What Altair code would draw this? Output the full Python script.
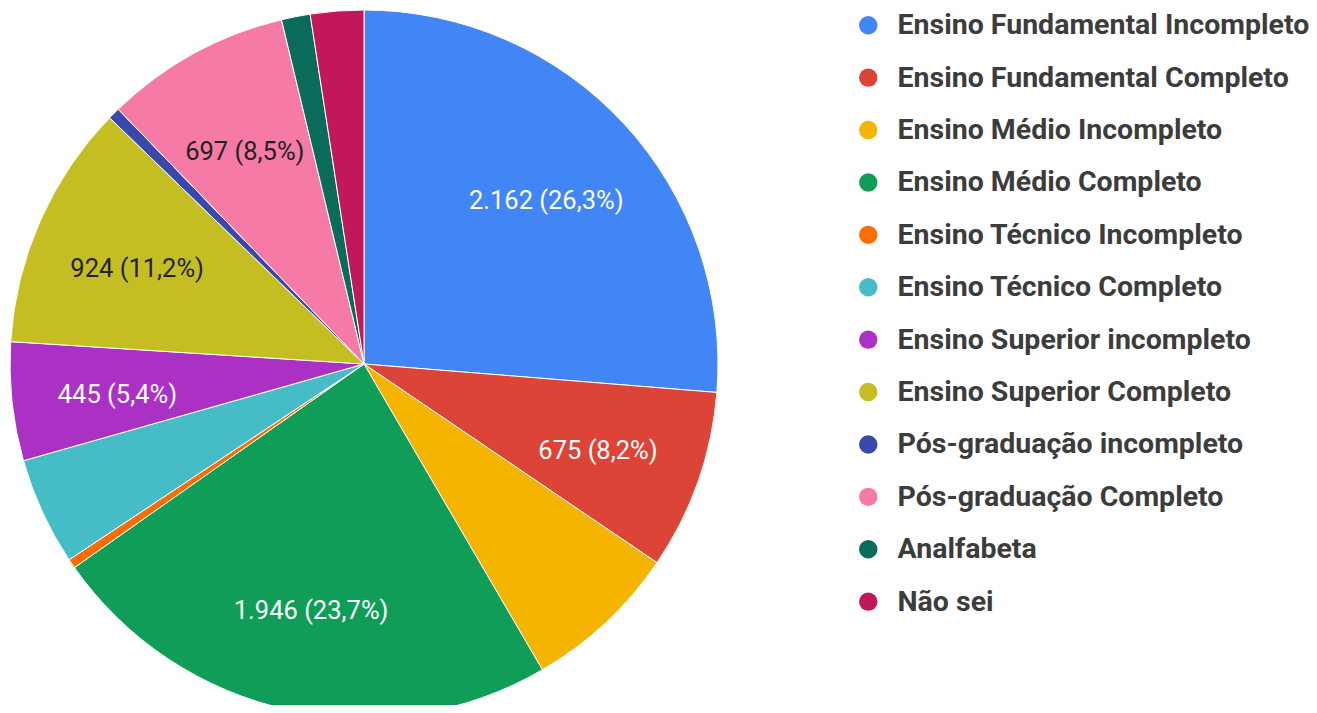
import altair as alt
import pandas as pd

categories = [
    "Ensino Fundamental Incompleto",
    "Ensino Fundamental Completo",
    "Ensino Médio Incompleto",
    "Ensino Médio Completo",
    "Ensino Técnico Incompleto",
    "Ensino Técnico Completo",
    "Ensino Superior incompleto",
    "Ensino Superior Completo",
    "Pós-graduação incompleto",
    "Pós-graduação Completo",
    "Analfabeta",
    "Não sei",
]
values = [2162, 675, 585, 1946, 35, 405, 445, 924, 45, 697, 108, 200]
colors = [
    "#4285F4", "#DB4437", "#F4B400", "#0F9D58", "#FF6D00", "#46BDC6",
    "#AB30C4", "#C5BE22", "#3949AB", "#F67AA6", "#0B6B5A", "#C2185B",
]
show_label = [True, True, False, True, False, False, True, True, False, True, False, False]
dark_label = [False, False, False, False, False, False, False, True, False, True, False, False]

total = sum(values)


def fmt(v):
    s = f"{v:,}".replace(",", ".")
    p = f"{v / total * 100:.1f}".replace(".", ",")
    return f"{s} ({p}%)"


df = pd.DataFrame({
    "idx": list(range(len(categories))),
    "cat": categories,
    "value": values,
    "label": [fmt(v) if s else "" for v, s in zip(values, show_label)],
    "dark": dark_label,
})

base = alt.Chart(df).encode(
    theta=alt.Theta("value:Q", stack=True),
    order=alt.Order("idx:Q"),
)

pie = base.mark_arc(radius=354, stroke="white", strokeWidth=1).encode(
    color=alt.Color(
        "cat:N",
        scale=alt.Scale(domain=categories, range=colors),
        sort=categories,
        legend=alt.Legend(
            title=None,
            orient="none",
            legendX=846,
            legendY=3,
            symbolType="circle",
            symbolSize=340,
            symbolStrokeWidth=0,
            labelFont="Roboto",
            labelFontSize=28.5,
            labelFontWeight="bold",
            labelColor="#3c3c3c",
            labelOffset=15,
            rowPadding=23.4,
            padding=0,
            labelLimit=600,
        ),
    ),
    x=alt.value(356),
    y=alt.value(356),
)

text = base.mark_text(radius=248, dy=5, font="Roboto", fontSize=25.5).encode(
    text="label:N",
    color=alt.condition("datum.dark", alt.value("#222222"), alt.value("#ffffff")),
    x=alt.value(356),
    y=alt.value(356),
)

chart = (
    alt.layer(pie, text)
    .properties(width=1301, height=697, padding=0, autosize=alt.AutoSizeParams(type="none"))
    .configure_view(stroke=None)
)

chart.save("out.html", embed_options={"renderer": "svg", "actions": False})
